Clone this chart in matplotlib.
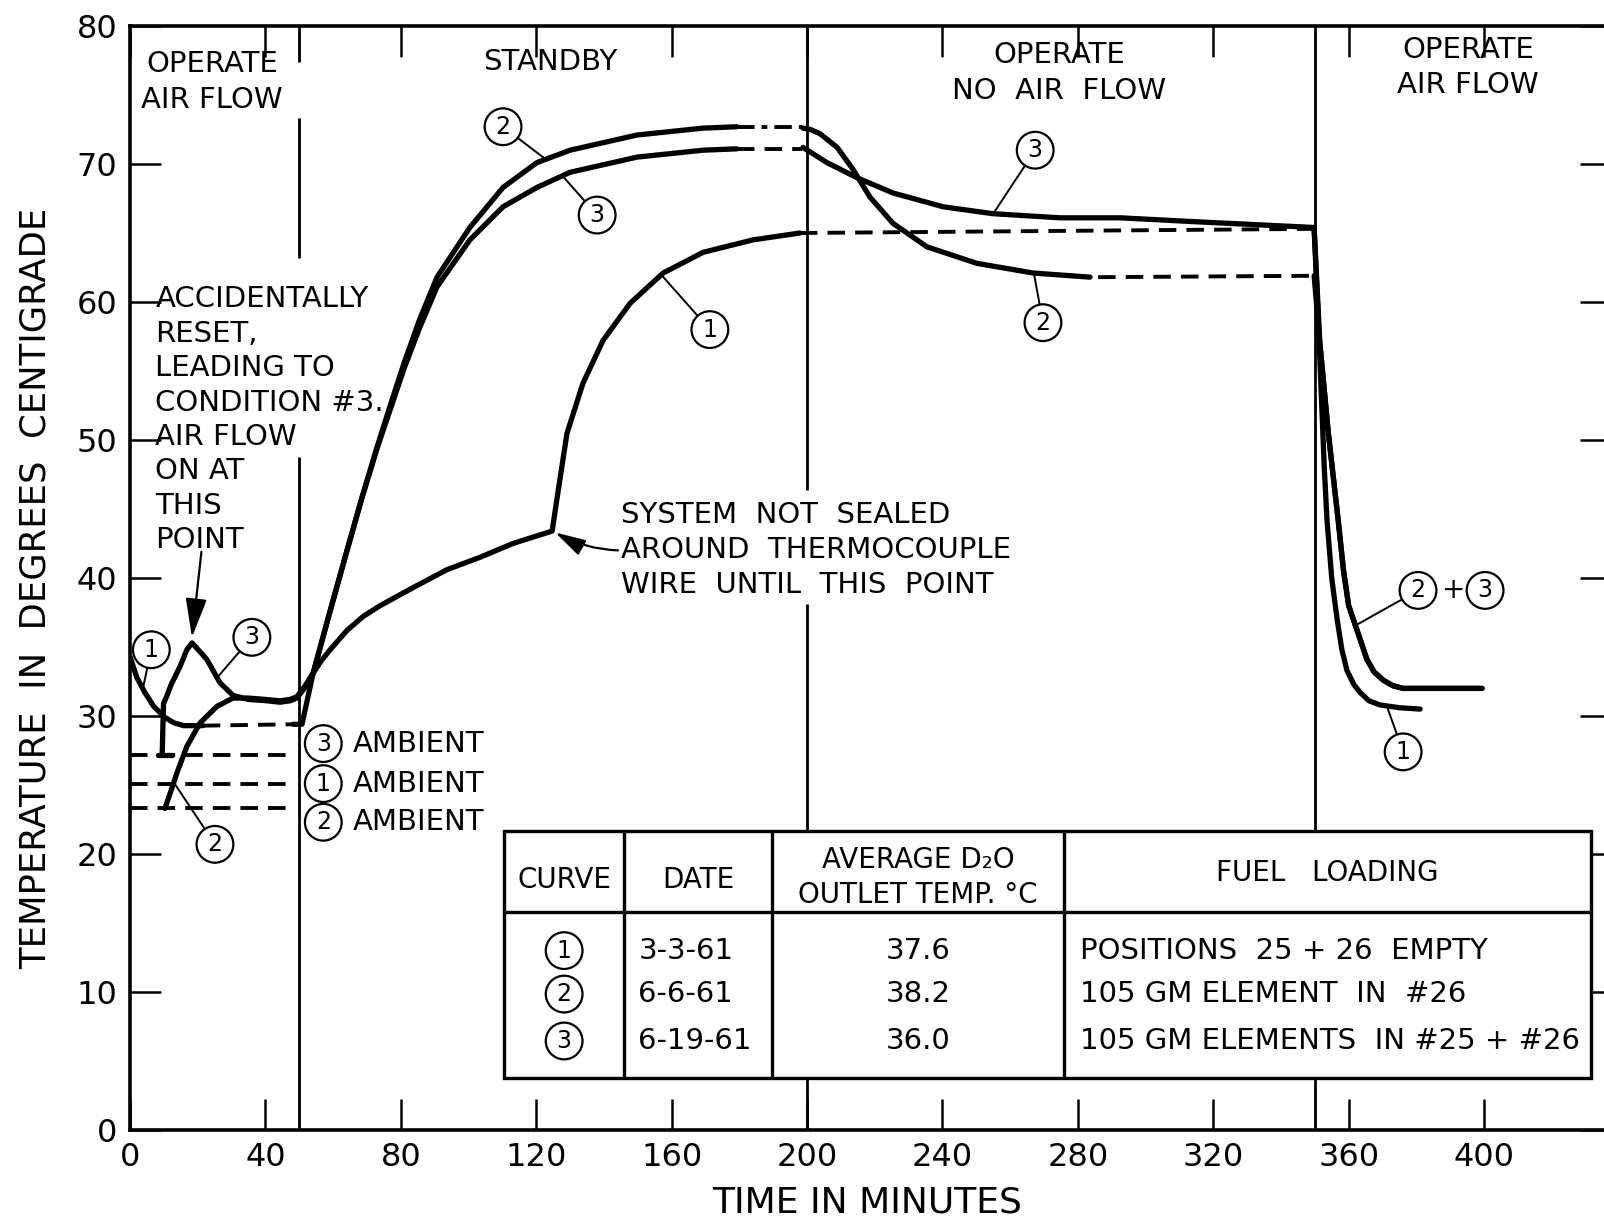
import matplotlib.pyplot as plt
from matplotlib.patches import Rectangle

plt.rcParams['font.family'] = ['DejaVu Sans']

# ---- values (time in minutes, temperature in deg C) ----
# curve 1  (3-3-61)
c1_a_t = [0, 2, 4.4, 7, 10.3, 13, 15.9, 19, 21.5]
c1_a_T = [34.3, 32.8, 31.7, 30.7, 29.9, 29.5, 29.3, 29.3, 29.3]
c1_gap1_t = [21.5, 48.2]
c1_gap1_T = [29.3, 29.4]
c1_b_t = [48.2, 50.8, 54.1, 56.5, 59.1, 64.1, 68.8, 73.9, 83.6, 93.6, 103.4, 113.1, 124.7,
          126.1, 129.1, 133.8, 139.7, 147.7, 157.5, 169.3, 184, 197.9]
c1_b_T = [29.4, 29.4, 33.1, 34.0, 34.8, 36.2, 37.2, 38.0, 39.3, 40.6, 41.5, 42.5, 43.4,
          45.7, 50.5, 54.1, 57.2, 59.9, 62.1, 63.6, 64.5, 65.0]
c1_gap2_t = [197.9, 349.8]
c1_gap2_T = [65.0, 65.3]
c1_c_t = [349.8, 350.8, 351.8, 352.8, 353.6, 355, 356.6, 358, 359.5, 361.5,
          363.4, 366, 369.3, 375, 381.1]
c1_c_T = [65.3, 60, 54, 48, 44.2, 40, 37.0, 34.8, 33.3, 32.3,
          31.7, 31.1, 30.8, 30.6, 30.5]

# curve 2  (6-6-61)
c2_a_t = [10.3, 12, 13.9, 16.8, 20.7, 25.7, 30.4, 35, 40, 44.3, 47.3, 49.3, 51.5,
          54.1, 59, 64, 68.5, 73, 77, 81, 85.5, 90.7, 100.4, 110.2, 120.2, 130,
          149.8, 169.3, 179.3]
c2_a_T = [23.3, 24.5, 25.9, 27.8, 29.5, 30.7, 31.3, 31.3, 31.2, 31.1, 31.2, 31.4, 32.1,
          33.1, 37.5, 41.9, 45.8, 49.5, 52.6, 55.6, 58.7, 61.8, 65.4, 68.3, 70.1, 71.0,
          72.1, 72.6, 72.7]
c2_gap1_t = [179.3, 198.5]
c2_gap1_T = [72.7, 72.7]
c2_b_t = [198.8, 201, 203.8, 208.9, 213.6, 218.6, 225.4, 235.4, 250.2, 266.8, 283.6]
c2_b_T = [72.6, 72.5, 72.2, 71.2, 69.6, 67.6, 65.7, 64.0, 62.8, 62.1, 61.8]
c2_gap2_t = [286, 349.8]
c2_gap2_T = [61.8, 61.9]

# curve 3  (6-19-61)
c3_foot_t = [8.3, 12.4]
c3_foot_T = [27.2, 27.2]
c3_a_t = [9.5, 9.9, 10.8, 12.2, 14.8, 16.8, 18.3, 19.8, 22.7, 26.6, 30.4, 35, 40.5,
          44.3, 47.3, 49.3, 51.5, 54.1, 59, 64, 68.5, 73, 77, 81, 85.5, 90.7, 100.4,
          110.2, 120.2, 130, 149.8, 169.3, 179.3]
c3_a_T = [27.2, 30.9, 31.4, 32.3, 33.6, 34.8, 35.3, 34.9, 34.1, 32.4, 31.5, 31.2, 31.1,
          31.0, 31.1, 31.3, 32.0, 33.1, 37.5, 41.9, 45.8, 49.4, 52.3, 55.2, 58.1, 61.1, 64.5,
          66.9, 68.3, 69.4, 70.5, 71.0, 71.1]
c3_gap1_t = [179.3, 198.5]
c3_gap1_T = [71.1, 71.1]
c3_b_t = [198.8, 205.9, 214.8, 225.4, 240.2, 254.9, 274.7, 292.5, 316.1, 349.8]
c3_b_T = [71.2, 70.1, 69.0, 67.9, 66.9, 66.4, 66.1, 66.1, 65.8, 65.4]

# curves 2 + 3 after air flow restored (shared trace)
c23_drop_t = [351.5, 354, 356.9, 358.5, 360, 362.5, 365.4, 367.5, 370.2, 373, 376.1, 399.4]
c23_drop_T = [57, 50.5, 44.2, 40.5, 38, 36.2, 34.1, 33.2, 32.6, 32.2, 32.0, 32.0]

# ambient temperatures (dashed, first 47 minutes)
ambient_curve = ['3', '1', '2']
ambient_T = [27.2, 25.1, 23.3]
ambient_end = 47.3

# phase boundaries and phase names
phase_edges = [50, 200, 350]
phase_names = ['OPERATE\nAIR FLOW', 'STANDBY', 'OPERATE\nNO  AIR  FLOW', 'OPERATE\nAIR FLOW']

# table
tbl_header = ['CURVE', 'DATE', 'AVERAGE D\u2082O\nOUTLET TEMP. \u00b0C', 'FUEL   LOADING']
tbl_curve = ['1', '2', '3']
tbl_date = ['3-3-61', '6-6-61', '6-19-61']
tbl_avg = ['37.6', '38.2', '36.0']
tbl_fuel = ['POSITIONS  25 + 26  EMPTY', '105 GM ELEMENT  IN  #26',
            '105 GM ELEMENTS  IN #25 + #26']

# ---- figure ----
fig = plt.figure(figsize=(16.04, 12.2), dpi=100)
ax = fig.add_axes([130 / 1604, 90 / 1220, 1481 / 1604, 1104 / 1220])
ax.set_xlim(0, 437.5)
ax.set_ylim(0, 80)
for s in ax.spines.values():
    s.set_linewidth(2.6)
ax.set_xticks(range(0, 401, 40))
ax.set_yticks(range(0, 81, 10))
ax.tick_params(direction='in', length=22, width=1.8, top=True, right=True,
               labelsize=23, pad=9)

ax.set_xlabel('TIME IN MINUTES', fontsize=26)
ax.xaxis.label.set_va('center')
ax.xaxis.set_label_coords(0.498, -0.066)
ax.set_ylabel('TEMPERATURE  IN  DEGREES  CENTIGRADE', fontsize=25.5)
ax.yaxis.label.set_va('center')
ax.yaxis.set_label_coords(-0.0635, 0.491)

# phase separators (broken where lettering crosses them)
sep = dict(color='k', lw=2.0, zorder=1)
ax.vlines(phase_edges[0], 0, 48.8, **sep)
ax.vlines(phase_edges[0], 63.2, 73.3, **sep)
ax.vlines(phase_edges[0], 77.4, 80, **sep)
ax.vlines(phase_edges[1], 0, 38.1, **sep)
ax.vlines(phase_edges[1], 46.4, 80, **sep)
ax.vlines(phase_edges[2], 0, 80, **sep)

lab = dict(ha='center', va='center', fontsize=21, linespacing=1.33)
ax.text(24.2, 75.95, phase_names[0], **lab)
ax.text(124.2, 77.4, phase_names[1], **lab)
ax.text(274.4, 76.6, phase_names[2], **lab)
ax.text(395.3, 77.0, phase_names[3], **lab)

# curves
solid = dict(color='k', lw=3.8, solid_capstyle='round', solid_joinstyle='round', zorder=3)
dash = dict(color='k', lw=2.8, ls=(0, (4.5, 2.6)), zorder=3)
ax.plot(c1_a_t, c1_a_T, **solid)
ax.plot(c1_gap1_t, c1_gap1_T, **dash)
ax.plot(c1_b_t, c1_b_T, **solid)
ax.plot(c1_gap2_t, c1_gap2_T, **dash)
ax.plot(c1_c_t, c1_c_T, **solid)

ax.plot(c2_a_t, c2_a_T, **solid)
ax.plot(c2_gap1_t, c2_gap1_T, color='k', lw=2.8, ls=(0, (4.5, 1.8, 1.5, 1.8)), zorder=3)
ax.plot(c2_b_t, c2_b_T, **solid)
ax.plot(c2_gap2_t, c2_gap2_T, **dash)
ax.plot([c2_gap2_t[-1]] + c23_drop_t, [c2_gap2_T[-1]] + c23_drop_T, **solid)

ax.plot(c3_foot_t, c3_foot_T, **solid)
ax.plot(c3_a_t, c3_a_T, **solid)
ax.plot(c3_gap1_t, c3_gap1_T, **dash)
ax.plot(c3_b_t, c3_b_T, **solid)
ax.plot([c3_b_t[-1]] + c23_drop_t, [c3_b_T[-1]] + c23_drop_T, **solid)

for T in ambient_T:
    ax.plot([0, ambient_end], [T, T], **dash)

# circled curve numbers
circ = dict(boxstyle='circle,pad=0.27', fc='white', ec='k', lw=1.6)
lead = dict(arrowstyle='-', lw=1.4, color='k', shrinkA=0, shrinkB=0)


def circled(num, pos, target=None, size=17):
    if target is None:
        ax.text(pos[0], pos[1], num, ha='center', va='center', fontsize=size,
                bbox=circ, zorder=6)
    else:
        ax.annotate(num, xy=target, xytext=pos, ha='center', va='center',
                    fontsize=size, bbox=circ, arrowprops=lead, zorder=6)


circled('1', (6.3, 34.8), (3.8, 32.0))
circled('3', (36.0, 35.7), (25.8, 32.8))
circled('2', (25.1, 20.7), (12.9, 25.2))
circled('2', (110.2, 72.7), (122.5, 70.4))
circled('3', (138.0, 66.3), (127.9, 69.1))
circled('1', (171.3, 58.0), (157.2, 61.9))
circled('3', (267.4, 71.0), (255.0, 66.4))
circled('2', (269.7, 58.5), (267.0, 62.1))
circled('2', (380.5, 39.1), (362.3, 36.6))
ax.text(390.9, 39.1, '+', ha='center', va='center', fontsize=20)
circled('3', (400.3, 39.1))
circled('1', (376.1, 27.4), (371.3, 30.7))

# ambient legend
for num, T, y in zip(ambient_curve, ambient_T, [28.0, 25.1, 22.3]):
    circled(num, (57.1, y))
    ax.text(65.8, y, 'AMBIENT', ha='left', va='center', fontsize=21)

# annotations
ax.text(7.5, 61.2, 'ACCIDENTALLY\nRESET,\nLEADING TO\nCONDITION #3.\nAIR FLOW\nON AT\nTHIS\nPOINT',
        ha='left', va='top', fontsize=21, linespacing=1.29)
ax.annotate('', xy=(18.3, 35.7), xytext=(21.1, 41.9),
            arrowprops=dict(arrowstyle='-|>,head_length=1.1,head_width=0.3',
                            lw=1.6, color='k', mutation_scale=22, shrinkA=0, shrinkB=0))
ax.text(145.0, 45.6, 'SYSTEM  NOT  SEALED\nAROUND  THERMOCOUPLE\nWIRE  UNTIL  THIS  POINT',
        ha='left', va='top', fontsize=21, linespacing=1.33)
ax.annotate('', xy=(125.6, 43.3), xytext=(144.2, 42.0),
            arrowprops=dict(arrowstyle='-|>,head_length=1.1,head_width=0.3',
                            lw=1.6, color='k', mutation_scale=17, shrinkA=0, shrinkB=0,
                            connectionstyle='arc3,rad=-0.12'))

# table
tx0, tx1 = 110.6, 431.6
ty0, ty1, tyh = 3.8, 21.7, 15.8
cols = [145.9, 189.7, 275.9]
ax.add_patch(Rectangle((tx0, ty0), tx1 - tx0, ty1 - ty0, fc='white', ec='k',
                       lw=2.4, zorder=5))
ax.hlines(tyh, tx0, tx1, color='k', lw=2.4, zorder=5)
ax.vlines(cols, ty0, ty1, color='k', lw=2.4, zorder=5)
hx = [(tx0 + cols[0]) / 2, (cols[0] + cols[1]) / 2, (cols[1] + cols[2]) / 2, (cols[2] + tx1) / 2]
hy = [18.1, 18.1, 18.3, 18.65]
for x, y, h in zip(hx, hy, tbl_header):
    ax.text(x, y, h, ha='center', va='center', fontsize=20, linespacing=1.35, zorder=6)
row_y = [13.0, 9.85, 6.45]
for y, c, d, a, f in zip(row_y, tbl_curve, tbl_date, tbl_avg, tbl_fuel):
    ax.text(hx[0], y, c, ha='center', va='center', fontsize=17, bbox=circ, zorder=6)
    ax.text(cols[0] + 4.3, y, d, ha='left', va='center', fontsize=21, zorder=6)
    ax.text(hx[2], y, a, ha='center', va='center', fontsize=21, zorder=6)
    ax.text(cols[2] + 4.8, y, f, ha='left', va='center', fontsize=21, zorder=6)

fig.savefig('out.png', dpi=100)
